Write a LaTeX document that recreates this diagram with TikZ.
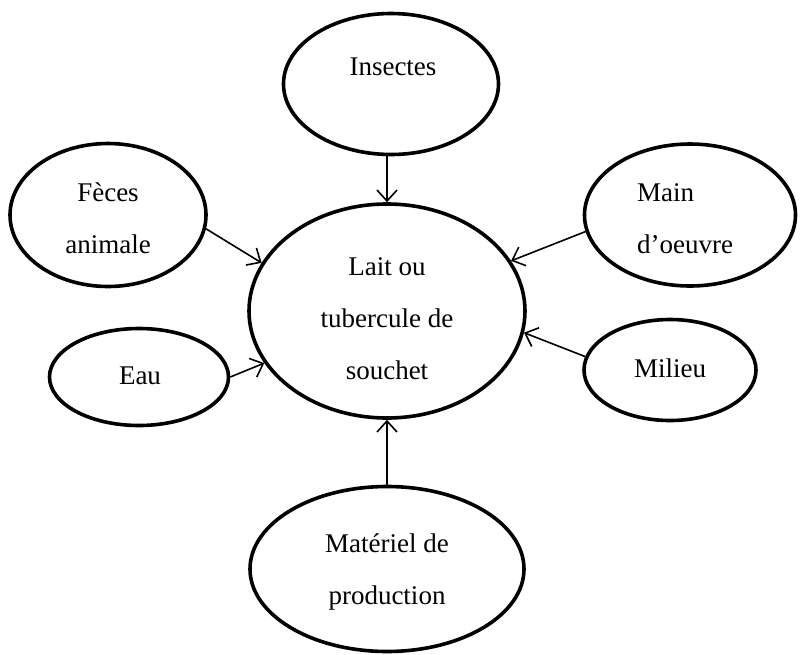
\documentclass[tikz,border=0pt]{standalone}
\usepackage{fontspec}
\setmainfont{Liberation Serif}
\usetikzlibrary{shapes.geometric,arrows.meta}
\begin{document}
\begin{tikzpicture}[x=1pt,y=-1pt,
  oval/.style={draw=black,line width=3.6pt,ellipse,inner sep=0pt},
  lbl/.style={font=\fontsize{27}{52}\selectfont,inner sep=0pt,align=center},
  conn/.style={draw=black,line width=1.6pt,-{Straight Barb[length=11pt,width=20pt,line width=1.6pt]}}]
\useasboundingbox (0,0) rectangle (801,654);
\fill[white] (0,0) rectangle (801,654);
% ellipses
\node[oval,minimum width=276pt,minimum height=214pt] (c) at (387,311) {};
\node[oval,minimum width=215pt,minimum height=141pt] (ins) at (391,84) {};
\node[oval,minimum width=196pt,minimum height=143pt] (fec) at (108,215) {};
\node[oval,minimum width=179pt,minimum height=97pt] (eau) at (139,377) {};
\node[oval,minimum width=211pt,minimum height=142pt] (main) at (690,215) {};
\node[oval,minimum width=172pt,minimum height=101pt] (mil) at (670,370) {};
\node[oval,minimum width=274pt,minimum height=165pt] (mat) at (387,569) {};
% texts
\node[lbl] (tc) at (387,319) {Lait ou\\tubercule de\\souchet};
\node[lbl] (tins) at (393,67) {Insectes};
\node[lbl] (tfec) at (108,218) {Fèces\\animale};
\node[lbl] (teau) at (140,376) {Eau};
\node[lbl,align=left,anchor=west] (tmain) at (637,219) {Main\\d’oeuvre};
\node[lbl] (tmil) at (670,368) {Milieu};
\node[lbl] (tmat) at (387,572) {Matériel de\\production};
% connectors
\draw[conn] (c.north |- ins.south) -- (c.north);
\draw[conn] (mat.north) -- (c.south);
\draw[conn] (fec.-8) -- (c.159);
\draw[conn] (eau.east) -- (c.-157);
\draw[conn] (main.189) -- (c.22);
\draw[conn] (mil.171) -- (c.-9);
\end{tikzpicture}
\end{document}
